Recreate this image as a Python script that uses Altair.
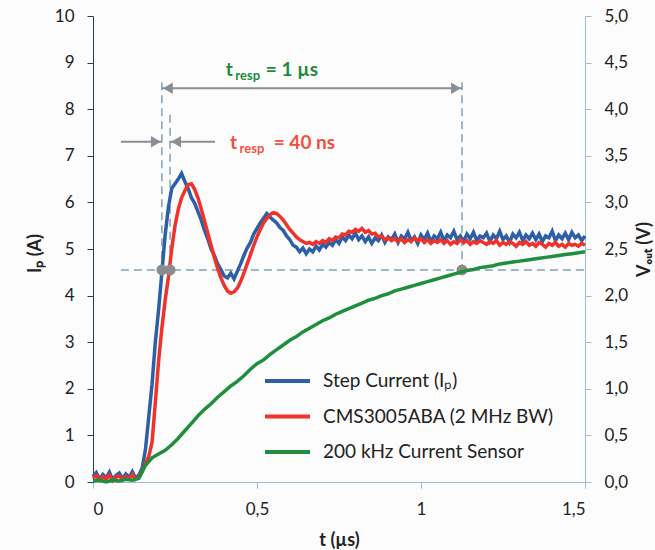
import altair as alt
import pandas as pd

# ---------------- data ----------------
t_fast = [round(i * 0.01, 2) for i in range(151)]   # µs
step_current = [
    0.12, 0.20, 0.06, 0.16, 0.09, 0.21, 0.05, 0.14, 0.19, 0.07, 0.17, 0.10, 0.22, 0.08, 0.15,
    0.30, 0.70, 1.40, 2.10, 3.00, 3.70, 4.50, 5.30, 5.90, 6.30, 6.40, 6.50, 6.62, 6.45, 6.30,
    6.10, 5.98, 5.80, 5.62, 5.40, 5.22, 5.00, 4.86, 4.68, 4.56, 4.42, 4.38, 4.48, 4.36, 4.52,
    4.68, 4.86, 5.02, 5.14, 5.32, 5.44, 5.56, 5.66, 5.76, 5.68, 5.62, 5.56, 5.46, 5.40, 5.28,
    5.20, 5.08, 5.04, 4.94, 5.02, 4.90, 5.00, 4.94, 5.06, 4.98, 5.10, 5.04, 5.14, 5.08, 5.20,
    5.12, 5.26, 5.18, 5.30, 5.22, 5.34, 5.20, 5.28, 5.16, 5.26, 5.12, 5.24, 5.18, 5.30, 5.14,
    5.26, 5.20, 5.32, 5.14, 5.28, 5.22, 5.36, 5.18, 5.26, 5.12, 5.30, 5.20, 5.34, 5.16, 5.28,
    5.22, 5.36, 5.18, 5.30, 5.24, 5.38, 5.20, 5.28, 5.16, 5.32, 5.22, 5.36, 5.18, 5.28, 5.24,
    5.34, 5.16, 5.30, 5.22, 5.38, 5.20, 5.28, 5.14, 5.32, 5.24, 5.36, 5.18, 5.30, 5.22, 5.34,
    5.20, 5.32, 5.16, 5.28, 5.24, 5.38, 5.18, 5.30, 5.22, 5.34, 5.20, 5.36, 5.24, 5.30, 5.18,
    5.28,
]
cms_sensor = [
    0.08, 0.14, 0.04, 0.12, 0.06, 0.15, 0.03, 0.10, 0.13, 0.05, 0.12, 0.07, 0.16, 0.06, 0.11,
    0.22, 0.40, 0.55, 0.85, 1.70, 2.60, 3.30, 3.90, 4.40, 5.00, 5.50, 5.85, 6.10, 6.25, 6.38,
    6.40, 6.28, 6.10, 5.86, 5.60, 5.34, 5.08, 4.82, 4.58, 4.38, 4.22, 4.10, 4.05, 4.08, 4.16,
    4.30, 4.48, 4.68, 4.88, 5.08, 5.26, 5.42, 5.56, 5.66, 5.74, 5.78, 5.76, 5.70, 5.62, 5.52,
    5.42, 5.34, 5.26, 5.20, 5.16, 5.12, 5.14, 5.10, 5.16, 5.12, 5.18, 5.14, 5.22, 5.18, 5.26,
    5.24, 5.32, 5.30, 5.38, 5.36, 5.42, 5.38, 5.44, 5.36, 5.40, 5.32, 5.34, 5.26, 5.28, 5.20,
    5.24, 5.18, 5.22, 5.16, 5.22, 5.14, 5.20, 5.16, 5.24, 5.18, 5.22, 5.14, 5.20, 5.12, 5.18,
    5.14, 5.20, 5.12, 5.18, 5.10, 5.16, 5.12, 5.20, 5.14, 5.18, 5.10, 5.16, 5.12, 5.18, 5.14,
    5.10, 5.16, 5.12, 5.18, 5.08, 5.14, 5.10, 5.16, 5.12, 5.06, 5.14, 5.10, 5.16, 5.08, 5.12,
    5.06, 5.14, 5.10, 5.04, 5.12, 5.08, 5.14, 5.06, 5.10, 5.04, 5.12, 5.08, 5.10, 5.06, 5.12,
    5.08,
]
t_slow = [round(i * 0.02, 2) for i in range(76)]     # µs
sensor_200k_v = [
    0.01, 0.02, 0.00, 0.02, 0.01, 0.03, 0.02,
    0.04, 0.18, 0.26, 0.30, 0.34, 0.40, 0.47, 0.55, 0.63, 0.71, 0.78, 0.84, 0.91, 0.97,
    1.03, 1.08, 1.14, 1.21, 1.27, 1.31, 1.37, 1.42, 1.47, 1.52, 1.56, 1.61, 1.65, 1.69,
    1.73, 1.76, 1.80, 1.83, 1.86, 1.89, 1.92, 1.95, 1.97, 2.00, 2.02, 2.05, 2.07, 2.09,
    2.11, 2.13, 2.15, 2.17, 2.19, 2.21, 2.23, 2.25, 2.27, 2.28, 2.30, 2.31, 2.32, 2.34,
    2.35, 2.36, 2.37, 2.38, 2.39, 2.40, 2.41, 2.42, 2.43, 2.44, 2.45, 2.46, 2.47,
]
series_names = ["Step Current (Iₚ)", "CMS3005ABA (2 MHz BW)", "200 kHz Current Sensor"]
series_colors = ["#2d5fa6", "#f0322a", "#1f8f3e"]
x_ticks = [0, 0.5, 1, 1.5]
y_left_ticks = [0, 1, 2, 3, 4, 5, 6, 7, 8, 9, 10]
y_right_ticks = [0, 0.5, 1, 1.5, 2, 2.5, 3, 3.5, 4, 4.5, 5]

# annotation geometry (in data units)
level_a = 4.55
dash_x = [0.21, 0.235, 1.125]
dash_top = [8.58, 7.88, 8.58]

# ---------------- styling ----------------
FONT = "Lato"
GREY = "#8a8f94"
DASH = "#7fa0bb"
LIGHT_AXIS = "#9dbbd2"
TXT = "#222222"

xaxis = alt.Axis(
    values=x_ticks, title="t (µs)", labelExpr="replace(format(datum.value, '~g'), '.', ',')",
    grid=False, domainColor=LIGHT_AXIS, tickColor=LIGHT_AXIS, tickSize=6, labelPadding=13,
    labelFont=FONT, labelFontSize=17, labelColor=TXT, titleFont=FONT, titleFontSize=18,
    titleFontWeight="bold", titleColor=TXT, titleY=49, titleBaseline="top",
)
yaxis_left = alt.Axis(
    values=y_left_ticks, title="Iₚ (A)", grid=False, domainColor="#243f5c", tickColor="#243f5c",
    tickSize=6, labelPadding=13, labelFont=FONT, labelFontSize=17, labelColor=TXT,
    titleFont=FONT, titleFontSize=18, titleFontWeight="bold", titleColor=TXT,
    titleAngle=270, titleX=-53, titleY=237, titleAlign="center", titleBaseline="alphabetic",
)
yaxis_right = alt.Axis(
    orient="right", values=y_right_ticks, title="Vₒᵤₜ (V)",
    labelExpr="replace(format(datum.value, '.1f'), '.', ',')",
    grid=False, domainColor=LIGHT_AXIS, tickColor=LIGHT_AXIS, tickSize=6, labelPadding=13,
    labelFont=FONT, labelFontSize=17, labelColor=TXT, titleFont=FONT, titleFontSize=18,
    titleFontWeight="bold", titleColor=TXT, titleAngle=270, titleX=64, titleY=233,
    titleAlign="center", titleBaseline="alphabetic",
)

xs = alt.Scale(domain=[0, 1.5], nice=False)
ys_left = alt.Scale(domain=[0, 10], nice=False)
ys_right = alt.Scale(domain=[0, 5], nice=False)

X = alt.X("t:Q", scale=xs, axis=xaxis)
YL = alt.Y("A:Q", scale=ys_left, axis=yaxis_left)

df_blue = pd.DataFrame({"t": t_fast, "A": step_current})
df_red = pd.DataFrame({"t": t_fast, "A": cms_sensor})
df_green = pd.DataFrame({"t": t_slow, "V": sensor_200k_v})

blue = alt.Chart(df_blue).mark_line(color=series_colors[0], strokeWidth=3.5).encode(x=X, y=YL)
red = alt.Chart(df_red).mark_line(color=series_colors[1], strokeWidth=3.5).encode(x=X, y=YL)

# dashed guides
hdash = alt.Chart(pd.DataFrame({"t": [0.085], "t2": [1.5], "A": [level_a]})).mark_rule(
    color=DASH, strokeWidth=1.5, strokeDash=[8, 5]
).encode(x=X, x2="t2:Q", y=YL)
vdash = alt.Chart(pd.DataFrame({"t": dash_x, "A": dash_top, "A2": [level_a] * 3})).mark_rule(
    color=DASH, strokeWidth=1.5, strokeDash=[8, 5]
).encode(x=X, y=YL, y2="A2:Q")

# arrows
arrow_lines = alt.Chart(pd.DataFrame({
    "t": [0.21, 0.085, 0.235], "t2": [1.125, 0.21, 0.372], "A": [8.45, 7.3, 7.3]
})).mark_rule(color=GREY, strokeWidth=2).encode(x=X, x2="t2:Q", y=YL)
head_left = alt.Chart(pd.DataFrame({"t": [0.21, 0.235], "A": [8.45, 7.3]})).mark_point(
    shape="triangle-left", filled=True, size=130, color=GREY, opacity=1, xOffset=6
).encode(x=X, y=YL)
head_right = alt.Chart(pd.DataFrame({"t": [1.125, 0.21], "A": [8.45, 7.3]})).mark_point(
    shape="triangle-right", filled=True, size=130, color=GREY, opacity=1, xOffset=-6
).encode(x=X, y=YL)

dots = alt.Chart(pd.DataFrame({"t": [0.21, 0.235, 1.125], "A": [level_a] * 3})).mark_circle(
    color="#8c8c8c", size=120, opacity=1
).encode(x=X, y=YL)

# labels t_resp
def label(t_main, t_sub, t_rest, a, color, rest):
    base = pd.DataFrame({"t": [t_main], "A": [a], "s": ["t"]})
    sub = pd.DataFrame({"t": [t_sub], "A": [a], "s": ["resp"]})
    rst = pd.DataFrame({"t": [t_rest], "A": [a], "s": [rest]})
    kw = dict(font=FONT, fontWeight="bold", color=color, align="left", baseline="middle")
    return [
        alt.Chart(base).mark_text(fontSize=19, **kw).encode(x=X, y=YL, text="s:N"),
        alt.Chart(sub).mark_text(fontSize=13, dy=6, **kw).encode(x=X, y=YL, text="s:N"),
        alt.Chart(rst).mark_text(fontSize=19, **kw).encode(x=X, y=YL, text="s:N"),
    ]

lab1 = label(0.405, 0.434, 0.527, 8.84, "#1f8a3c", "= 1 µs")
lab2 = label(0.418, 0.447, 0.551, 7.27, "#f0503c", "= 40 ns")

# manual legend (inside plot)
legend_layers = []
for i, (name, col) in enumerate(zip(series_names, series_colors)):
    ypix = 365 + i * 35.5
    one = pd.DataFrame({"label": [name]})
    legend_layers.append(
        alt.Chart(one).mark_rule(color=col, strokeWidth=4).encode(
            x=alt.value(172), x2=alt.value(217), y=alt.value(ypix))
    )
    legend_layers.append(
        alt.Chart(one).mark_text(font=FONT, fontSize=19, color=TXT, align="left",
                                 baseline="middle").encode(
            x=alt.value(230), y=alt.value(ypix), text="label:N")
    )

left = alt.layer(hdash, vdash, blue, red, arrow_lines, head_left, head_right, dots,
                 *lab1, *lab2, *legend_layers)

green = alt.Chart(df_green).mark_line(color=series_colors[2], strokeWidth=3.5).encode(
    x=X, y=alt.Y("V:Q", scale=ys_right, axis=yaxis_right))

chart = alt.layer(left, green).resolve_scale(y="independent").properties(
    width=492, height=466,
    padding={"left": 93, "top": 16, "right": 70, "bottom": 68},
    autosize=alt.AutoSizeParams(type="none"),
    background="#fcfcfd",
).configure_view(strokeWidth=0)

chart.save("out.html", embed_options={"renderer": "svg", "actions": False})
